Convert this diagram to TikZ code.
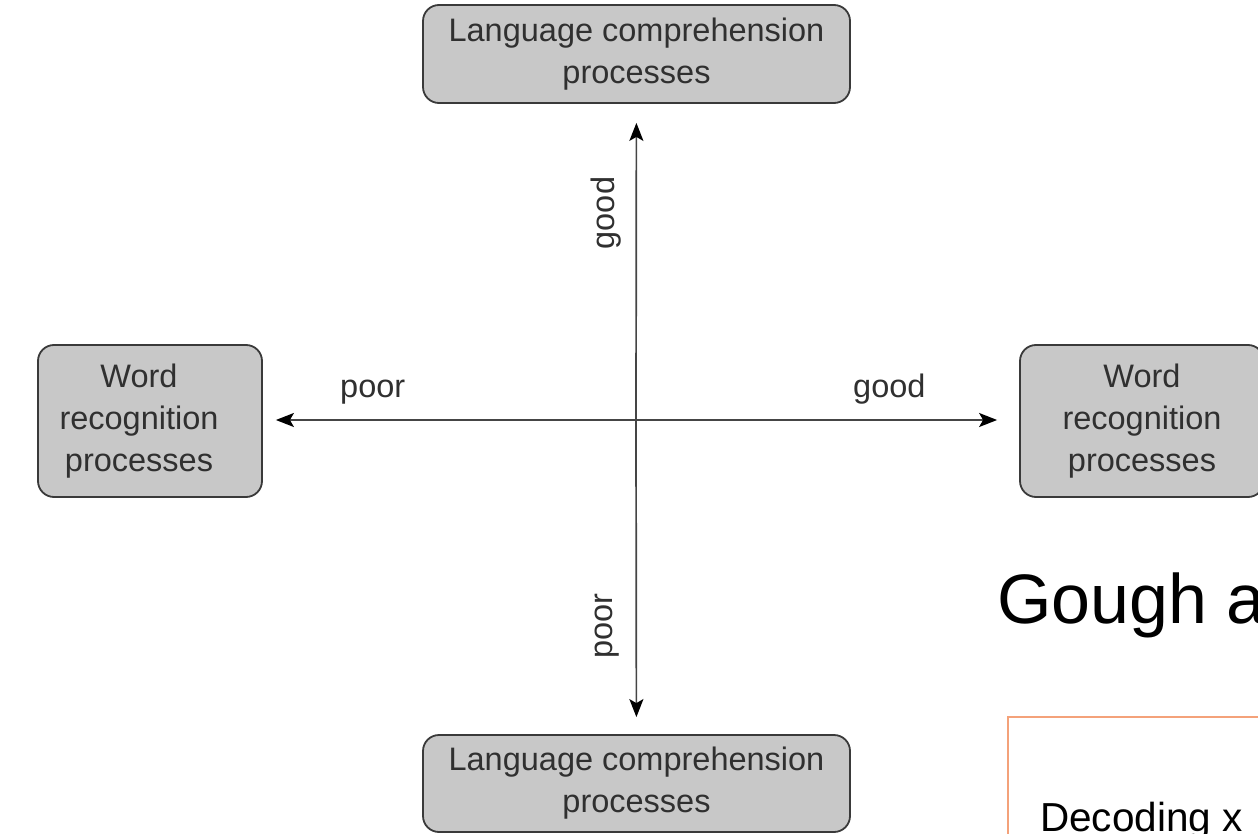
\documentclass[tikz,border=0pt]{standalone}
\usepackage{fontspec}
\setmainfont{Liberation Sans}
\usetikzlibrary{arrows.meta}
\definecolor{boxfill}{HTML}{C8C8C8}
\definecolor{boxline}{HTML}{3A3A3A}
\definecolor{txtgray}{HTML}{303030}
\definecolor{linegray}{HTML}{454545}
\definecolor{orangeline}{HTML}{F4A27A}
\tikzset{
  boxtext/.style={text=txtgray, align=center, inner sep=0pt,
    font=\fontsize{32.5}{42}\selectfont},
  procbox/.style={boxtext, draw=boxline, fill=boxfill, line width=1.8pt, rounded corners=16pt},
  axislabel/.style={text=txtgray, inner sep=0pt, font=\fontsize{32.5}{42}\selectfont},
  axisarrow/.style={draw=linegray, line width=1.7pt,
    -{Stealth[length=18pt,width=14pt,inset=4pt,black]}}
}
\begin{document}
\begin{tikzpicture}[x=1pt,y=-1pt]
\useasboundingbox (0,0) rectangle (1258,834);
\clip (0,0) rectangle (1258,834);
\fill[white] (0,0) rectangle (1258,834);

\node[procbox, minimum width=427pt, minimum height=98pt] (top) at (636.5,54) {Language comprehension\\processes};
\node[procbox, minimum width=427pt, minimum height=97pt] (bot) at (636.5,783.5) {Language comprehension\\processes};
\node[procbox, minimum width=224pt, minimum height=152pt,
  label={[boxtext, xshift=-11pt]center:Word\\recognition\\processes}] (left) at (150,421) {};
\node[procbox, minimum width=244pt, minimum height=152pt] (right) at (1142,421) {Word\\recognition\\processes};

\coordinate (c) at (636,420);
\draw[axisarrow, shorten >=19pt] (c) -- (top);
\draw[axisarrow, shorten >=17pt] (c) -- (bot);
\draw[axisarrow, shorten >=13pt] (c) -- (left.east |- c);
\draw[axisarrow, shorten >=22pt] (c) -- (right.west |- c);

\node[axislabel, rotate=90] (lgoodv) at (606,213) {good};
\node[axislabel, rotate=90] (lpoorv) at (607,626) {poor};
\node[axislabel, anchor=base west] (lpoorh) at (340,397) {poor};
\node[axislabel, anchor=base west] (lgoodh) at (853,397) {good};

\node[anchor=base west, inner sep=0pt, font=\fontsize{70}{80}\selectfont] (title) at (997,623) {Gough a};

\draw[orangeline, line width=2pt] (1300,717) -| (1008,900);
\node[anchor=base west, inner sep=0pt, font=\fontsize{40.5}{48}\selectfont] (dec) at (1040,831) {Decoding x};
\end{tikzpicture}
\end{document}
